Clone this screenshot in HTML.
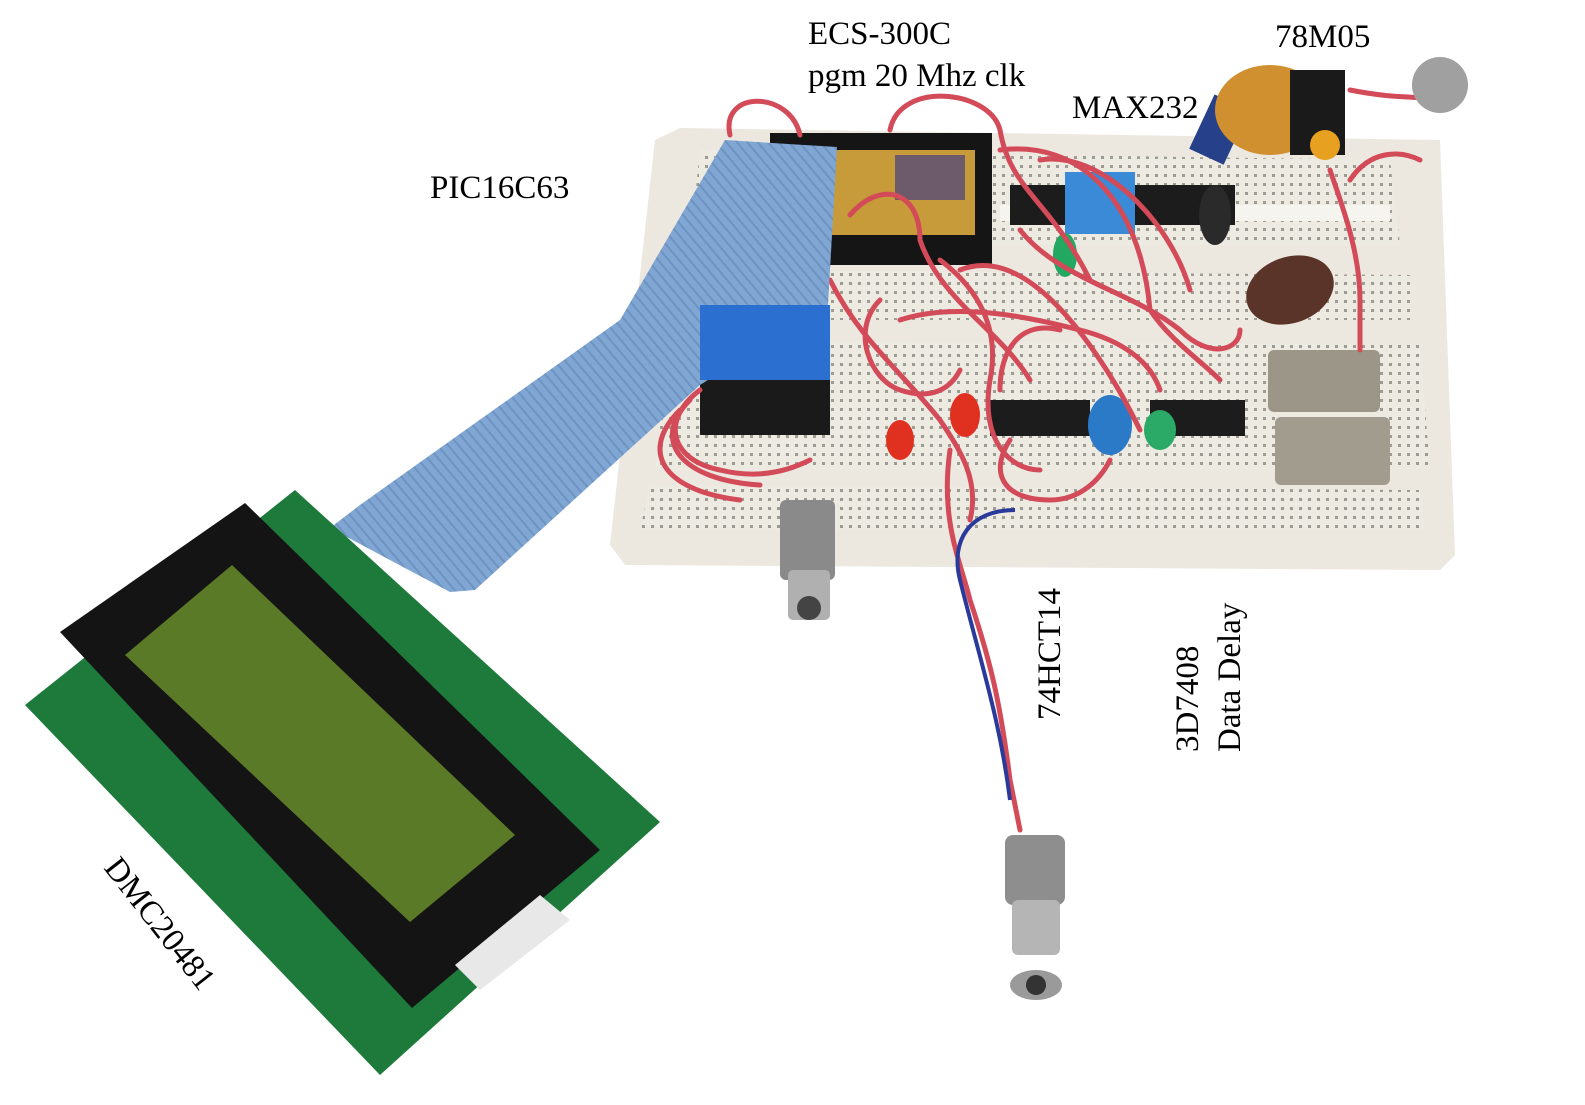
<!DOCTYPE html>
<html><head><meta charset="utf-8"><style>
html,body{margin:0;padding:0;background:#fff;}
svg{display:block}
text{font-family:"Liberation Serif",serif;font-size:33px;fill:#000}
</style></head><body>
<svg width="1585" height="1105" viewBox="0 0 1585 1105" xmlns="http://www.w3.org/2000/svg">
<defs>
<pattern id="holes" width="9" height="9" patternUnits="userSpaceOnUse">
<rect width="9" height="9" fill="#eeebe3"/><rect x="3" y="3" width="3" height="3" fill="#7d7a74"/>
</pattern>
<pattern id="rib" width="8" height="8" patternUnits="userSpaceOnUse" patternTransform="rotate(-40)">
<rect width="8" height="8" fill="#80a6d4"/><rect width="2" height="8" fill="#6f93c0"/>
</pattern>
</defs>
<!-- breadboard -->
<polygon points="680,128 1440,140 1455,555 1440,570 625,565 610,545 655,140" fill="#ece8df"/>
<polygon points="700,150 1390,160 1400,245 690,245" fill="url(#holes)" opacity="0.7"/>
<polygon points="690,270 1410,275 1410,320 685,320" fill="url(#holes)" opacity="0.7"/>
<polygon points="670,340 1420,345 1430,470 655,470" fill="url(#holes)" opacity="0.7"/>
<polygon points="650,485 1420,490 1425,530 640,530" fill="url(#holes)" opacity="0.7"/>
<rect x="1000" y="205" width="390" height="16" fill="#f6f4ef"/>
<!-- chips -->
<rect x="770" y="133" width="222" height="132" fill="#151515"/>
<rect x="830" y="150" width="145" height="85" fill="#c79a3a"/>
<rect x="895" y="155" width="70" height="45" fill="#6d5a6a"/>
<rect x="1010" y="185" width="225" height="40" fill="#1c1c1c"/>
<rect x="1065" y="172" width="70" height="62" fill="#3b8ad8"/>
<rect x="700" y="380" width="130" height="55" fill="#1a1a1a"/>
<rect x="990" y="400" width="100" height="36" fill="#1c1c1c"/>
<rect x="1150" y="400" width="95" height="36" fill="#1c1c1c"/>
<rect x="1268" y="350" width="112" height="62" rx="6" fill="#9c9688"/>
<rect x="1275" y="417" width="115" height="68" rx="6" fill="#a29c8e"/>
<ellipse cx="1290" cy="290" rx="45" ry="33" fill="#5a3428" transform="rotate(-20 1290 290)"/>
<ellipse cx="1110" cy="425" rx="22" ry="30" fill="#2a7ac8"/>
<ellipse cx="1065" cy="255" rx="12" ry="22" fill="#22a860"/>
<ellipse cx="1160" cy="430" rx="16" ry="20" fill="#2aaa66"/>
<ellipse cx="965" cy="415" rx="15" ry="22" fill="#e03020"/>
<ellipse cx="900" cy="440" rx="14" ry="20" fill="#e03020"/>
<ellipse cx="1215" cy="215" rx="16" ry="30" fill="#2a2a2a"/>
<rect x="1200" y="100" width="38" height="60" fill="#27408a" transform="rotate(25 1220 130)"/>
<ellipse cx="1270" cy="110" rx="55" ry="45" fill="#d09030"/>
<rect x="1290" y="70" width="55" height="85" fill="#1a1a1a"/>
<circle cx="1325" cy="145" r="15" fill="#e8a020"/>
<!-- red wires -->
<g fill="none" stroke="#d34a58" stroke-width="5" stroke-linecap="round">
<path d="M730,135 C720,90 790,90 800,135"/>
<path d="M890,130 C900,80 990,90 1000,130 C1010,190 1050,200 1090,280"/>
<path d="M1000,150 C1080,140 1140,200 1150,310 C1170,340 1200,360 1220,380"/>
<path d="M850,215 C880,180 920,190 920,240 C940,300 1000,330 1030,380"/>
<path d="M960,270 C1010,250 1060,300 1100,360 C1120,390 1130,410 1140,430"/>
<path d="M830,280 C860,340 900,370 940,420 C960,450 980,480 970,520"/>
<path d="M700,390 C660,420 670,460 720,470 C760,480 790,470 810,460"/>
<path d="M690,400 C650,440 680,480 760,485"/>
<path d="M680,410 C640,450 660,490 740,500"/>
<path d="M940,260 C980,290 1000,330 990,380 C980,440 1010,470 1040,470"/>
<path d="M1020,230 C1060,280 1130,290 1180,330 C1210,360 1240,350 1240,330"/>
<path d="M880,300 C850,330 870,380 900,390 C930,400 950,390 960,370"/>
<path d="M1060,330 C1020,320 1000,350 1000,390"/>
<path d="M1040,160 C1100,150 1170,220 1190,290"/>
<path d="M900,320 C960,300 1040,320 1080,330 C1120,340 1150,360 1160,390"/>
<path d="M1350,180 C1370,150 1400,150 1420,160"/>
<path d="M1360,300 C1360,250 1340,200 1330,170 M1360,300 L1360,350"/>
<path d="M1350,90 C1400,100 1420,95 1430,100"/>
<path d="M1010,440 C990,470 1000,500 1050,500 C1080,500 1100,480 1110,460"/>
<path d="M950,450 C940,520 960,560 970,600 C990,660 1000,700 1010,780 L1020,830"/>
</g>
<path d="M1015,510 C970,510 950,540 960,580 C980,660 1000,720 1010,800" fill="none" stroke="#2a3a9a" stroke-width="4"/>
<!-- BNC connectors -->
<rect x="780" y="500" width="55" height="80" rx="6" fill="#8a8a8a"/>
<rect x="788" y="570" width="42" height="50" rx="5" fill="#b0b0b0"/>
<circle cx="809" cy="608" r="12" fill="#444"/>
<rect x="1005" y="835" width="60" height="70" rx="8" fill="#8e8e8e"/>
<rect x="1012" y="900" width="48" height="55" rx="6" fill="#b5b5b5"/>
<ellipse cx="1036" cy="985" rx="26" ry="15" fill="#9a9a9a"/>
<circle cx="1036" cy="985" r="10" fill="#333"/>
<circle cx="1440" cy="85" r="28" fill="#a0a0a0"/>
<!-- ribbon -->
<path d="M725,140 L837,147 L828,305 L700,385 L475,590 L450,592 L330,528 L360,505 L620,320 Z" fill="url(#rib)"/>
<rect x="700" y="305" width="130" height="75" fill="#2b6fd0"/>
<!-- LCD PCB -->
<polygon points="25,705 295,490 660,822 380,1075" fill="#1d7a3a"/>
<polygon points="60,632 245,503 600,850 412,1008" fill="#141414"/>
<polygon points="125,655 232,565 515,835 410,922" fill="#5a7a28"/>
<polygon points="455,965 540,895 570,920 480,990" fill="#e8e8e8"/>
<!-- labels -->
<text x="808" y="44">ECS-300C</text>
<text x="808" y="86">pgm 20 Mhz clk</text>
<text x="1072" y="118">MAX232</text>
<text x="1275" y="47">78M05</text>
<text x="430" y="198">PIC16C63</text>
<text transform="translate(1060,720) rotate(-90)">74HCT14</text>
<text transform="translate(1198,752) rotate(-90)">3D7408</text>
<text transform="translate(1240,752) rotate(-90)">Data Delay</text>
<text transform="translate(103,868) rotate(52)">DMC20481</text>
</svg>
</body></html>
